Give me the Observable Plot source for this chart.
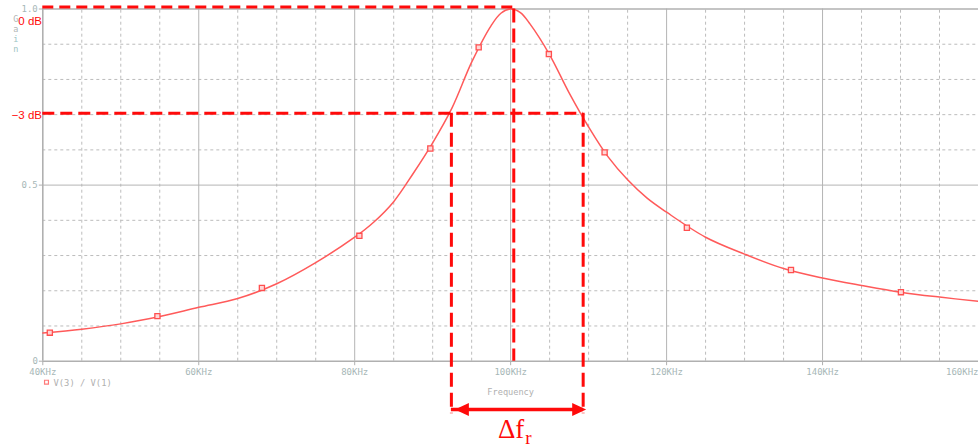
<!DOCTYPE html>
<html>
<head>
<meta charset="utf-8">
<script src="https://cdn.jsdelivr.net/npm/d3@7"></script>
<script src="https://cdn.jsdelivr.net/npm/@observablehq/plot@0.6"></script>
<style>
  html, body { margin: 0; padding: 0; background: #ffffff; }
  #chart svg { display: block; }
</style>
</head>
<body>
<div id="chart"></div>
<script>
// Gain V(3)/V(1) of the band-pass circuit, sampled along the trace (frequency in kHz)
const traceFreq = [40, 45, 50, 55, 60, 65, 70, 75, 80, 82.5, 85, 87.5, 90, 92.5, 95, 97.5, 98.75, 100,
  101.25, 102.5, 105, 107.5, 110, 112.5, 115, 117.5, 120, 125, 130, 135, 140, 145, 150, 155, 160];
const traceGain = [0.080, 0.091, 0.106, 0.127, 0.153, 0.178, 0.220, 0.280, 0.352, 0.396, 0.453, 0.533, 0.620,
  0.720, 0.849, 0.953, 0.988, 1.0, 0.990, 0.957, 0.870, 0.762, 0.665, 0.580, 0.515, 0.463, 0.423, 0.352,
  0.304, 0.263, 0.236, 0.215, 0.196, 0.182, 0.170];

// Square symbols placed on the trace
const markerFreq = [40.9, 54.7, 68.1, 80.6, 89.7, 95.9, 104.9, 112.05, 122.6, 135.95, 150.05];
const markerGain = [0.081, 0.128, 0.208, 0.356, 0.604, 0.891, 0.872, 0.593, 0.379, 0.259, 0.196];

// Axis ticks and labels
const freqTicks = [40, 60, 80, 100, 120, 140, 160];
const freqTickLabels = ["40KHz", "60KHz", "80KHz", "100KHz", "120KHz", "140KHz", "160KHz"];
const gainTicks = [0, 0.5, 1];
const gainTickLabels = ["0", "0.5", "1.0"];
const gainAxisTitle = ["G", "a", "i", "n"];

// Resonance and half-power (-3 dB) annotation values
const resonanceFreq = 100.4;
const peakGain = 1.0;
const halfPowerGain = 0.704;
const bandLow = 92.4;
const bandHigh = 109.3;

const trace = traceFreq.map((f, i) => ({f, g: traceGain[i]}));
const markers = markerFreq.map((f, i) => ({f, g: markerGain[i]}));
const freqMinor = d3.range(45, 160, 5).filter(f => f % 20 !== 0);
const gainMinor = d3.range(1, 10).map(k => k / 10).filter(g => Math.abs(g - 0.5) > 1e-9);

// Custom symbols: short axis ticks and filled arrow heads
const tickLeft = {draw(ctx) { ctx.moveTo(-4, 0); ctx.lineTo(0, 0); }};
const tickDown = {draw(ctx) { ctx.moveTo(0, 0); ctx.lineTo(0, 4); }};
const headRight = {draw(ctx) { ctx.moveTo(3, 0); ctx.lineTo(-11, -6.5); ctx.lineTo(-11, 6.5); ctx.closePath(); }};
const headLeft = {draw(ctx) { ctx.moveTo(3.5, 0); ctx.lineTo(17.5, -6.5); ctx.lineTo(17.5, 6.5); ctx.closePath(); }};

const GRID = "#bcbcbc";
const LABEL = "#a7b7b7";
const MONO = "'DejaVu Sans Mono', monospace";
const RED = "#ff0a0a";
const TRACE = "#ff5a5a";
const leaderBottom = -0.149;   // depth of the bandwidth leaders below the axis
const arrowLevel = -0.137;     // level of the bandwidth arrow below the axis

const chart = Plot.plot({
  width: 978,
  height: 447,
  marginLeft: 42.3,
  marginRight: 0,
  marginTop: 8.5,
  marginBottom: 86.3,
  x: {type: "linear", domain: [40, 160], axis: null},
  y: {type: "linear", domain: [0, 1], axis: null},
  style: {background: "#ffffff", overflow: "visible"},
  marks: [
    // dashed minor grid
    Plot.ruleX(freqMinor, {y1: 0, y2: 1, stroke: GRID, strokeWidth: 1, strokeDasharray: "3,3"}),
    Plot.ruleY(gainMinor, {x1: 40, x2: 160, stroke: GRID, strokeWidth: 1, strokeDasharray: "3,3"}),
    // solid major grid
    Plot.ruleX([60, 80, 100, 120, 140], {y1: 0, y2: 1, stroke: "#b4b4b4", strokeWidth: 1}),
    Plot.ruleY([0.5], {x1: 40, x2: 160, stroke: "#b4b4b4", strokeWidth: 1}),
    // frame
    Plot.ruleX([40], {y1: 0, y2: 1, stroke: "#b0b0b0", strokeWidth: 1.6}),
    Plot.ruleY([0, 1], {x1: 40, x2: 160, stroke: "#b0b0b0", strokeWidth: 1.5}),
    // ticks
    Plot.dot(gainTicks, {x: 40, y: d => d, symbol: tickLeft, stroke: "#b0b0b0", fill: "none", strokeWidth: 1}),
    Plot.dot(freqTicks, {x: d => d, y: 0, symbol: tickDown, stroke: "#b0b0b0", fill: "none", strokeWidth: 1}),
    // tick labels
    Plot.text(gainTicks, {x: 40, y: d => d, text: (d, i) => gainTickLabels[i], textAnchor: "end", dx: -5,
      fill: LABEL, fontFamily: MONO, fontSize: 9}),
    Plot.text(freqTicks.slice(0, -1), {x: d => d, y: 0, text: (d, i) => freqTickLabels[i], dy: 11,
      fill: LABEL, fontFamily: MONO, fontSize: 9}),
    Plot.text(freqTicks.slice(-1), {x: d => d, y: 0, text: () => freqTickLabels[freqTickLabels.length - 1],
      dy: 11, textAnchor: "end", fill: LABEL, fontFamily: MONO, fontSize: 9}),
    // vertical axis title, one letter per line
    ...gainAxisTitle.map((ch, i) => Plot.text([ch], {frameAnchor: "top-left", text: d => d, dx: -29.6,
      dy: 7 + i * 9.9, fill: i < 2 ? "#b2b6b6" : "#9cc4c4", fontFamily: MONO, fontSize: 8.5})),
    Plot.text(["Frequency"], {x: 100, y: 0, text: d => d, dy: 31, fill: "#b0b0b0", fontFamily: MONO, fontSize: 8.6}),
    // legend entry
    Plot.dot([0], {x: 40, y: 0, dx: 3.7, dy: 21, symbol: "square", r: 2.2, stroke: "#ff7a7a", fill: "#ffffff", strokeWidth: 1.2}),
    Plot.text(["V(3) / V(1)"], {x: 40, y: 0, text: d => d, dx: 10.7, dy: 21.5, textAnchor: "start",
      fill: "#b0b0b0", fontFamily: MONO, fontSize: 8.8}),
    // gain trace and its markers
    Plot.line(trace, {x: "f", y: "g", stroke: TRACE, strokeWidth: 1.5, curve: "catmull-rom"}),
    Plot.dot(markers, {x: "f", y: "g", symbol: "square", r: 2.9, stroke: "#ff4f4f", fill: "#ffd6d6", strokeWidth: 1.3}),
    // 0 dB and -3 dB guides
    Plot.ruleY([peakGain], {x1: 40, x2: resonanceFreq, dy: -2, stroke: RED, strokeWidth: 3, strokeDasharray: "11,6"}),
    Plot.ruleX([resonanceFreq], {y1: peakGain, y2: 0, stroke: RED, strokeWidth: 3, strokeDasharray: "14,6"}),
    Plot.ruleY([halfPowerGain], {x1: 40, x2: bandHigh, stroke: RED, strokeWidth: 3, strokeDasharray: "12,6"}),
    Plot.ruleX([bandLow, bandHigh], {y1: halfPowerGain, y2: leaderBottom, stroke: RED, strokeWidth: 3, strokeDasharray: "14,6"}),
    // bandwidth arrow
    Plot.ruleY([arrowLevel], {x1: bandLow, x2: bandHigh, stroke: RED, strokeWidth: 3.4}),
    Plot.dot([bandHigh], {x: d => d, y: arrowLevel, symbol: headRight, fill: RED, stroke: "none"}),
    Plot.dot([bandLow], {x: d => d, y: arrowLevel, symbol: headLeft, fill: RED, stroke: "none"}),
    // labels
    Plot.text(["0 dB"], {x: 40, y: peakGain, text: d => d, textAnchor: "end", dx: -0.8, dy: 12,
      fill: RED, fontFamily: "'Liberation Sans', Arial, sans-serif", fontSize: 11.5}),
    Plot.text(["\u22123 dB"], {x: 40, y: halfPowerGain, text: d => d, textAnchor: "end", dx: -0.8, dy: 2,
      fill: RED, fontFamily: "'Liberation Sans', Arial, sans-serif", fontSize: 11.5}),
    Plot.text(["\u0394f"], {x: (bandLow + bandHigh) / 2, y: 0, text: d => d, textAnchor: "end", lineAnchor: "bottom",
      dx: 7, dy: 76.3, fill: RED, fontFamily: "'Liberation Serif', serif", fontSize: 27}),
    Plot.text(["r"], {x: (bandLow + bandHigh) / 2, y: 0, text: d => d, textAnchor: "start", lineAnchor: "bottom",
      dx: 8, dy: 82.3, fill: RED, fontFamily: "'Liberation Serif', serif", fontSize: 19})
  ]
});

document.getElementById("chart").appendChild(chart);
</script>
</body>
</html>
